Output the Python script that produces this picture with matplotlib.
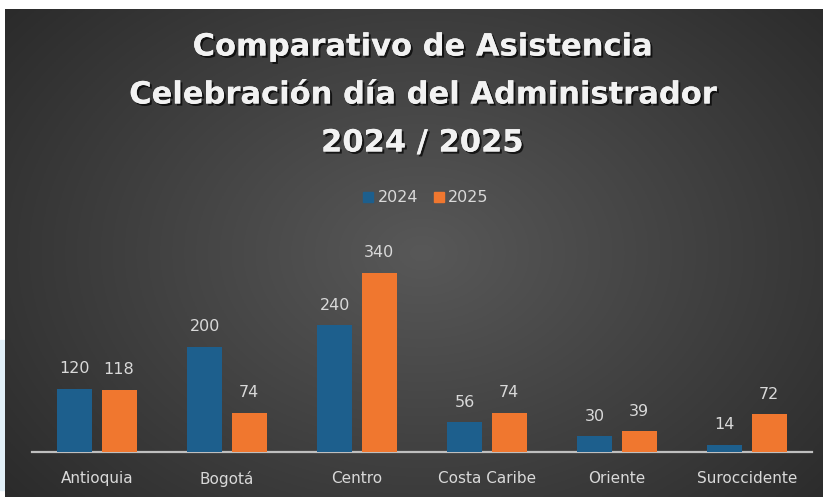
import numpy as np
from matplotlib import pyplot as plt
from matplotlib import patheffects
from matplotlib.patches import Rectangle, Patch

categorias = ['Antioquia', 'Bogotá', 'Centro', 'Costa Caribe', 'Oriente', 'Suroccidente']
serie_2024 = [120, 200, 240, 56, 30, 14]
serie_2025 = [118, 74, 340, 74, 39, 72]
anios = ['2024', '2025']
titulo = 'Comparativo de Asistencia\nCelebración día del Administrador\n2024 / 2025'

W, H = 825, 497
fig = plt.figure(figsize=(W / 100, H / 100), dpi=100)
fig.patch.set_facecolor('white')

# franja celeste a la izquierda
fig.add_artist(Rectangle((0, 7 / H), 5 / W, 150 / H, transform=fig.transFigure,
                         color='#e2f0f8', zorder=0))

# fondo con degradado radial
bg = fig.add_axes([5 / W, 0, 818 / W, 488 / H], zorder=0)
gx, gy = np.meshgrid(np.linspace(0, 1, 400), np.linspace(0, 1, 240))
r = np.sqrt(((gx - 0.51) / 0.7) ** 2 + ((gy - 0.5) / 0.85) ** 2)
r = np.clip(r, 0, 1)
c0 = np.array([0x58, 0x58, 0x58]) / 255
c1 = np.array([0x28, 0x28, 0x28]) / 255
img = c0[None, None, :] * (1 - r[..., None]) + c1[None, None, :] * r[..., None]
bg.imshow(img, aspect='auto', extent=[0, 1, 0, 1])
bg.set_axis_off()

# titulo
sombra = [patheffects.withSimplePatchShadow(offset=(1.5, -1.5), shadow_rgbFace='black', alpha=0.7),
          patheffects.Normal()]
lineas = titulo.split('\n')
for i, linea in enumerate(lineas):
    fig.text(422 / W, 1 - (47 + 48 * i) / H, linea, ha='center', va='center',
             fontsize=22, fontweight='bold', color='#f2f2f2', path_effects=sombra, zorder=5)

# grafico de barras
ax = fig.add_axes([32 / W, 45 / H, 780 / W, 211 / H], zorder=2)
ax.patch.set_alpha(0)
x = np.arange(len(categorias))
ancho = 0.27
b1 = ax.bar(x - 0.17, serie_2024, ancho, color='#1d5f8d', zorder=3)
b2 = ax.bar(x + 0.17, serie_2025, ancho, color='#f0772f', zorder=3)
for barras in (b1, b2):
    ax.bar_label(barras, padding=9, color='#d9d9d9', fontsize=11.5)

ax.set_xlim(-0.5, len(categorias) - 0.5)
ax.set_ylim(0, 400)
ax.set_xticks(x)
ax.set_xticklabels(categorias, color='#d9d9d9', fontsize=11)
ax.tick_params(axis='x', length=0, pad=14)
ax.set_yticks([])
for lado in ['top', 'right', 'left']:
    ax.spines[lado].set_visible(False)
ax.spines['bottom'].set_color('#bfbfbf')
ax.spines['bottom'].set_linewidth(1.6)

manijas = [Patch(color='#1d5f8d'), Patch(color='#f0772f')]
fig.legend(manijas, anios, loc='center', bbox_to_anchor=(426 / W, 1 - 198 / H), ncol=2,
           frameon=False, fontsize=11.5, labelcolor='#d9d9d9', handlelength=0.6,
           handleheight=0.6, handletextpad=0.3, columnspacing=1.0)

fig.savefig('out.png', dpi=100, facecolor=fig.get_facecolor())
